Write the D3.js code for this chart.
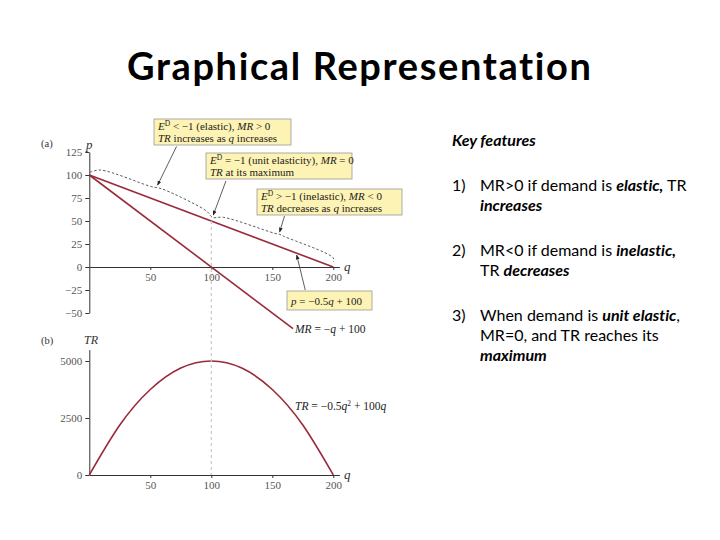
<!DOCTYPE html>
<html>
<head>
<meta charset="utf-8">
<script src="https://cdn.jsdelivr.net/npm/d3@7"></script>
<style>
  body { margin: 0; background: #fff; }
  svg text { font-variant-ligatures: none; font-feature-settings: "liga" 0; }
  .tick text { font-family: "Liberation Serif", serif; font-size: 11px; fill: #555; }
  .tick line, .domain { stroke: #333; }
</style>
</head>
<body>
<div class="canvas"></div>
<script>
// demand and marginal revenue, panel (a)
const demandQ = [0, 200];
const demandP = [100, 0];
const mrQ = [0, 167];
const mrP = [100, -67];

// total revenue, panel (b)
const trQ = [0, 25, 50, 75, 100, 125, 150, 175, 200];
const trV = [0, 2190, 3750, 4690, 5000, 4690, 3750, 2190, 0];

// dashed brace above the demand line
const braceQ = [0.6, 9, 51, 56, 62, 96, 101, 110, 152, 156, 160, 200, 200];
const braceP = [103, 105.4, 87.3, 86.2, 83.7, 60.9, 54, 54, 36.6, 35.5, 33, 9.8, 5.4];

const qTicks = [50, 100, 150, 200];
const pTicks = [-50, -25, 0, 25, 50, 75, 100, 125];
const trTicks = [0, 2500, 5000];

const keyLines = [
  ['1)', [['MR>0 if demand is ', ''], ['elastic,', 'bi'], [' TR', '']], [['increases', 'bi']]],
  ['2)', [['MR<0 if demand is ', ''], ['inelastic,', 'bi']], [['TR ', ''], ['decreases', 'bi']]],
  ['3)', [['When demand is ', ''], ['unit elastic', 'bi'], [',', '']], [['MR=0, and TR reaches its', '']], [['maximum', 'bi']]]
];

const svg = d3.select('.canvas')
  .append('svg')
    .attr('width', 720)
    .attr('height', 540);

// title
svg.append('text')
  .attr('x', 359).attr('y', 80)
  .attr('text-anchor', 'middle')
  .attr('font-family', 'Lato, sans-serif')
  .attr('font-weight', 'bold')
  .attr('font-size', 38)
  .attr('textLength', 464)
  .text('Graphical Representation');

// scales
const x = d3.scaleLinear().domain([0, 205]).range([89.3, 339.4]);
const y = d3.scaleLinear().domain([-50, 125]).range([313, 152]);
const yTR = d3.scaleLinear().domain([0, 5500]).range([475, 349.6]);

const plotA = svg.append('g');
const plotB = svg.append('g');

// axes panel (a)
plotA.append('g')
  .attr('transform', `translate(0,${y(0)})`)
  .call(d3.axisBottom(x).tickValues(qTicks).tickSize(3).tickSizeOuter(0).tickPadding(3));
plotA.append('g')
  .attr('transform', `translate(${x(0)},0)`)
  .call(d3.axisLeft(y).tickValues(pTicks).tickSize(4).tickSizeOuter(0).tickPadding(3));

// axes panel (b)
plotB.append('g')
  .attr('transform', `translate(0,${yTR(0)})`)
  .call(d3.axisBottom(x).tickValues(qTicks).tickSize(3).tickSizeOuter(0).tickPadding(3));
plotB.append('g')
  .attr('transform', `translate(${x(0)},0)`)
  .call(d3.axisLeft(yTR).tickValues(trTicks).tickFormat(d3.format('d')).tickSize(4).tickSizeOuter(0).tickPadding(3));

const serif = 'Liberation Serif, serif';
function lab(g, tx, ty, str, italic, size) {
  g.append('text').attr('x', tx).attr('y', ty)
    .attr('font-family', serif).attr('font-size', size || 11)
    .attr('font-style', italic ? 'italic' : 'normal')
    .attr('fill', '#333')
    .text(str);
}
lab(plotA, 41, 147, '(a)', false, 10.5);
lab(plotA, 86, 149, 'p', true, 13);
lab(plotA, 344, 271, 'q', true, 13);
lab(plotB, 41, 344, '(b)', false, 10.5);
lab(plotB, 84, 344, 'TR', true, 12);
lab(plotB, 344, 479, 'q', true, 13);

// grey guide at q = 100
svg.append('line')
  .attr('x1', x(100)).attr('x2', x(100))
  .attr('y1', y(50)).attr('y2', yTR(0))
  .attr('stroke', '#c8c8c8').attr('stroke-width', 1.2)
  .attr('stroke-dasharray', '3,3');

const red = '#9a2a3a';
const lineA = d3.line().x(d => x(d[0])).y(d => y(d[1]));

plotA.append('path')
  .datum(d3.zip(demandQ, demandP))
  .attr('d', lineA).attr('fill', 'none')
  .attr('stroke', red).attr('stroke-width', 1.6);
plotA.append('path')
  .datum(d3.zip(mrQ, mrP))
  .attr('d', lineA).attr('fill', 'none')
  .attr('stroke', red).attr('stroke-width', 1.6);

plotA.append('path')
  .datum(d3.zip(braceQ, braceP))
  .attr('d', d3.line().x(d => x(d[0])).y(d => y(d[1])).curve(d3.curveCatmullRom.alpha(0.5)))
  .attr('fill', 'none').attr('stroke', '#333').attr('stroke-width', 0.8)
  .attr('stroke-dasharray', '2.5,2');

plotB.append('path')
  .datum(d3.zip(trQ, trV))
  .attr('d', d3.line().x(d => x(d[0])).y(d => yTR(d[1])).curve(d3.curveNatural))
  .attr('fill', 'none').attr('stroke', red).attr('stroke-width', 1.6);

// arrows
svg.append('defs').append('marker')
  .attr('id', 'head').attr('viewBox', '0 0 10 10')
  .attr('refX', 9).attr('refY', 5)
  .attr('markerWidth', 6).attr('markerHeight', 6)
  .attr('orient', 'auto')
  .append('path').attr('d', 'M0,1L10,5L0,9Z').attr('fill', '#222');

const arrows = [[71.5, 131, 56, 89], [112, 93.5, 101.6, 56.5], [160, 55.4, 156, 38], [177, -25, 170, 13]];
plotA.selectAll('line.arrow')
  .data(arrows)
  .enter().append('line')
    .attr('class', 'arrow')
    .attr('x1', d => x(d[0])).attr('y1', d => y(d[1]))
    .attr('x2', d => x(d[2])).attr('y2', d => y(d[3]))
    .attr('stroke', '#333').attr('stroke-width', 0.8)
    .attr('marker-end', 'url(#head)');

// callout boxes
function eq(t, parts) {
  parts.forEach(p => {
    const s = t.append('tspan').text(p[0]);
    if (p[1] === 'i') s.attr('font-style', 'italic');
    if (p[1] === 'sup') s.attr('font-size', 7.5).attr('dy', -4);
    if (p[1] === 'down') s.attr('dy', 4);
  });
}
const boxes = [
  [154, 119, 137, [[['E', 'i'], ['D', 'sup'], [' < −1 (elastic),  ', 'down'], ['MR', 'i'], [' > 0', '']], [['TR', 'i'], [' increases as ', ''], ['q', 'i'], [' increases', '']]]],
  [206, 153, 146, [[['E', 'i'], ['D', 'sup'], [' = −1 (unit elasticity), ', 'down'], ['MR', 'i'], [' = 0', '']], [['TR', 'i'], [' at its maximum', '']]]],
  [257, 189, 145, [[['E', 'i'], ['D', 'sup'], [' > −1 (inelastic),  ', 'down'], ['MR', 'i'], [' < 0', '']], [['TR', 'i'], [' decreases as ', ''], ['q', 'i'], [' increases', '']]]],
  [287, 291, 85, [[['p', 'i'], [' = −0.5', ''], ['q', 'i'], [' + 100', '']]]]
];
boxes.forEach(b => {
  const h = b[3].length === 2 ? 26 : 19;
  svg.append('rect')
    .attr('x', b[0]).attr('y', b[1]).attr('width', b[2]).attr('height', h)
    .attr('fill', '#fdf3b4').attr('stroke', '#999').attr('stroke-width', 0.8);
  b[3].forEach((ln, i) => {
    const t = svg.append('text')
      .attr('x', b[0] + 4).attr('y', b[1] + (b[3].length === 2 ? 11 : 13.5) + i * 12)
      .attr('font-family', serif).attr('font-size', 11).attr('fill', '#222');
    eq(t, ln);
  });
});

// curve labels
const mrLab = svg.append('text').attr('x', 295).attr('y', 333)
  .attr('font-family', serif).attr('font-size', 11.5).attr('fill', '#222');
eq(mrLab, [['MR', 'i'], [' = −', ''], ['q', 'i'], [' + 100', '']]);
const trLab = svg.append('text').attr('x', 295).attr('y', 410)
  .attr('font-family', serif).attr('font-size', 11.5).attr('fill', '#222');
eq(trLab, [['TR', 'i'], [' = −0.5', ''], ['q', 'i'], ['2', 'sup'], [' + 100', 'down'], ['q', 'i']]);

// key features text
const sans = 'Lato, "Open Sans", sans-serif';
svg.append('text').attr('x', 452).attr('y', 146)
  .attr('font-family', sans).attr('font-size', 16)
  .attr('font-weight', 'bold').attr('font-style', 'italic')
  .text('Key features');

const itemTop = [191, 256, 321];
keyLines.forEach((item, k) => {
  svg.append('text').attr('x', 452).attr('y', itemTop[k])
    .attr('font-family', sans).attr('font-size', 16).text(item[0]);
  item.slice(1).forEach((ln, i) => {
    const t = svg.append('text').attr('x', 480).attr('y', itemTop[k] + i * 20)
      .attr('font-family', sans).attr('font-size', 16);
    ln.forEach(p => {
      const s = t.append('tspan').text(p[0]);
      if (p[1] === 'bi') s.attr('font-weight', 'bold').attr('font-style', 'italic');
    });
  });
});
</script>
</body>
</html>
